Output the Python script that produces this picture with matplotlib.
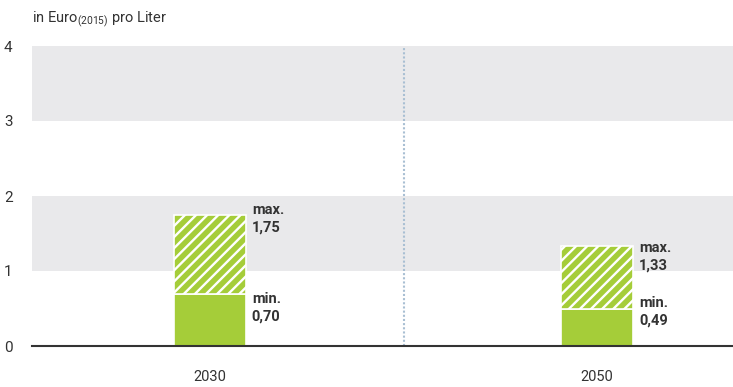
import matplotlib.pyplot as plt
import matplotlib as mpl

# data
years = ["2030", "2050"]
min_vals = [0.70, 0.49]
max_vals = [1.75, 1.33]
min_labels = ["min.\n0,70", "min.\n0,49"]
max_labels = ["max.\n1,75", "max.\n1,33"]
yticks = [0, 1, 2, 3, 4]

green = "#a5cd39"
mpl.rcParams["hatch.color"] = "white"
mpl.rcParams["hatch.linewidth"] = 1.7
plt.rcParams["font.family"] = ["Roboto", "DejaVu Sans"]

fig = plt.figure(figsize=(7.33, 3.87), dpi=100)
ax = fig.add_axes([32 / 733, 41 / 387, 1 - 32 / 733, 300 / 387])

# grey bands
for lo, hi in [(1, 2), (3, 4)]:
    ax.axhspan(lo, hi, color="#e9e9eb", lw=0, zorder=0)

x = list(range(len(years)))
w = 0.186
ax.bar(x, min_vals, width=w, color=green, edgecolor="white", linewidth=1.2, zorder=2)
ax.bar(x, [a - b for a, b in zip(max_vals, min_vals)], bottom=min_vals, width=w,
       color=green, edgecolor="white", linewidth=1.2, hatch="///", zorder=2)

# label offsets (layout only)
max_off = [-0.05, -0.14]
min_off = [-0.19, -0.03]
for i in x:
    ax.text(i + w / 2 + 0.015, max_vals[i] + max_off[i], max_labels[i], fontsize=10.5,
            fontweight="bold", color="#333333", va="center", ha="left", linespacing=1.3)
    ax.text(i + w / 2 + 0.015, min_vals[i] + min_off[i], min_labels[i], fontsize=10.5,
            fontweight="bold", color="#333333", va="center", ha="left", linespacing=1.3)

# divider
ax.axvline(0.5, color="#a9bfd3", lw=1.5, ls=(0, (1, 1)), zorder=1)

ax.set_xlim(-0.46, 1.351)
ax.set_ylim(0, 4)
ax.set_xticks(x)
ax.set_xticklabels(years, fontsize=10.5, color="#333333")
ax.tick_params(length=0)
ax.tick_params(axis="x", pad=17)
ax.set_yticks(yticks)
ax.set_yticklabels([str(t) for t in yticks], fontsize=11, color="#333333")
ax.tick_params(axis="y", pad=14)
for s in ["top", "right", "left"]:
    ax.spines[s].set_visible(False)
ax.spines["bottom"].set_color("#333333")
ax.spines["bottom"].set_linewidth(1.5)
ax.spines["bottom"].set_zorder(3)

fig.text(32 / 733, 1 - 20 / 387, "in Euro$_{\\mathregular{(2015)}}$ pro Liter", fontsize=10.5,
         color="#333333", va="center", ha="left")

fig.savefig("out.png", dpi=100)
